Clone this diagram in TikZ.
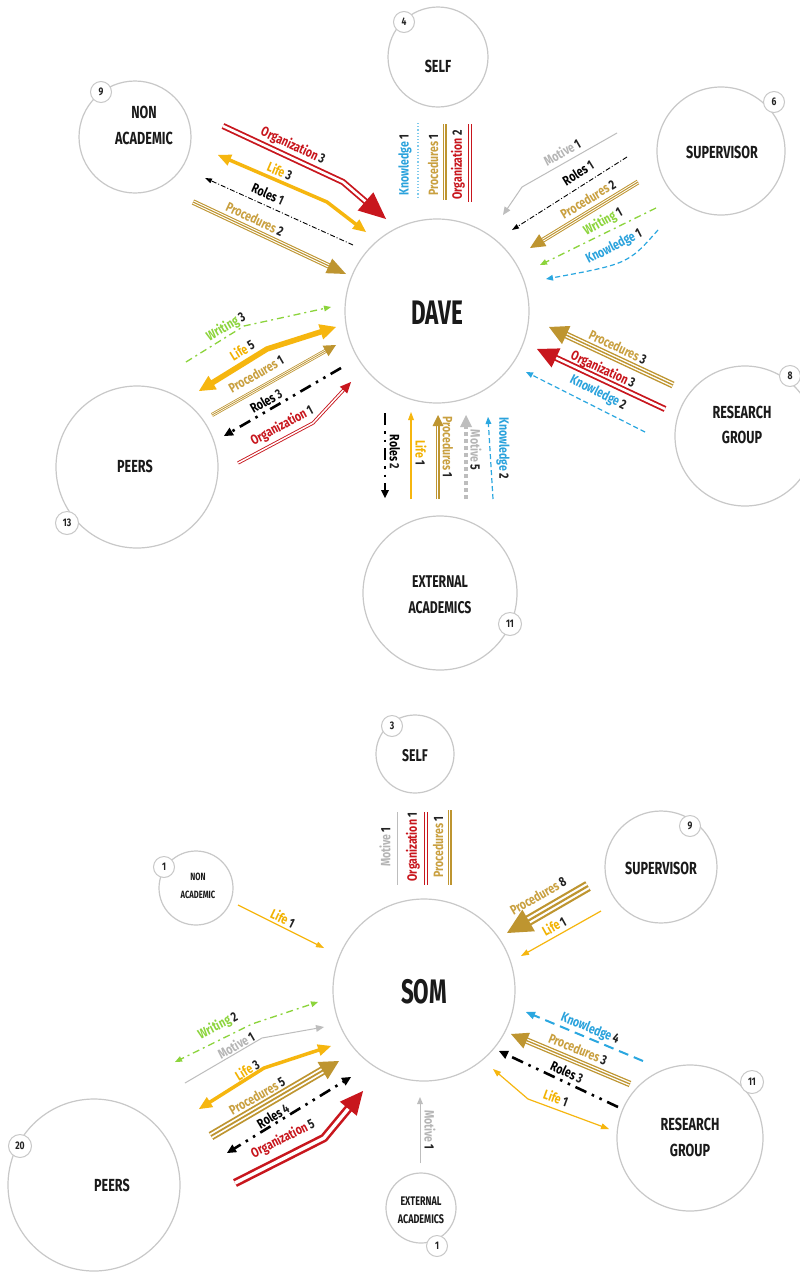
\documentclass[tikz,border=0pt]{standalone}
\usepackage{fontspec}
\setmainfont{Fira Sans}[FakeStretch=0.8]
\newfontfamily\hfont{Fira Sans}[FakeStretch=0.72]
\newfontfamily\dfont{Fira Sans}[FakeStretch=0.66]
\newfontfamily\lfont{Fira Sans}[FakeStretch=0.78]
\usetikzlibrary{calc}
\definecolor{cgray}{HTML}{C8C8C8}
\definecolor{orgred}{HTML}{C8161D}
\definecolor{gold}{HTML}{BE9530}
\definecolor{lifey}{HTML}{F6B60F}
\definecolor{wgreen}{HTML}{8CD43C}
\definecolor{kblue}{HTML}{2AA7E0}
\definecolor{mgray}{HTML}{BDBDBD}
\definecolor{numc}{HTML}{222222}
\definecolor{txt}{HTML}{1A1A1A}
\definecolor{torg}{HTML}{C8161D}
\definecolor{tgold}{HTML}{C9A040}
\definecolor{tlife}{HTML}{F2B200}
\definecolor{tblue}{HTML}{2AA2DC}
\definecolor{tgreen}{HTML}{8CD43C}
\definecolor{tgray}{HTML}{B5B5B5}
\newcounter{lbc}
\newcommand\arrlab[5]{\stepcounter{lbc}\node[lbl, rotate=#4] (lab\arabic{lbc}) at (#5) {\textcolor{#1}{#2}\,\textcolor{numc}{#3}};}
\newcommand\headtip[5]{\fill[#1] (#5) -- ($(#5)!#2!(#4)!#3/2!90:(#5)$) -- ($(#5)!#2!(#4)!#3/2!-90:(#5)$) -- cycle;}
\tikzset{
 ent/.style={circle, draw=cgray, line width=1.2pt, fill=white, inner sep=0pt, minimum size=#1},
 badge/.style={circle, draw=cgray, line width=1pt, fill=white, inner sep=0pt, minimum size=#1, text=numc, font=\lfont\bfseries\fontsize{11}{11}\selectfont},
 ename/.style 2 args={align=center, inner sep=0pt, text=txt, font=\hfont\bfseries\fontsize{#1}{#2}\selectfont},
 bigname/.style={inner sep=0pt, text=txt, font=\dfont\bfseries\fontsize{34}{34}\selectfont},
 lbl/.style={inner sep=0pt, font=\lfont\bfseries\fontsize{13.5}{13.5}\selectfont},
 org/.style 2 args={draw=orgred, line width=#1, double=white, double distance=#2, line join=round},
 proc/.style={draw=gold, line width=#1, postaction={draw=white, line width=0.6*#1}, postaction={draw=gold, line width=0.2*#1}},
 life/.style={draw=lifey, line width=#1, line join=round},
 rolesa/.style={draw=black, line width=0.9pt, dash pattern=on 5pt off 2pt on 1pt off 2pt},
 rolesb/.style={draw=black, line width=2.6pt, dash pattern=on 12pt off 6pt on 2.5pt off 6pt on 2.5pt off 6pt},
 wrt/.style={draw=wgreen, line width=1.3pt, dash pattern=on 7pt off 4pt on 2pt off 4pt},
 know/.style={draw=kblue, line width=#1, dash pattern=on 5pt off 3pt}, know/.default=1.2pt,
 mot/.style={draw=mgray, line width=#1}, mot/.default=1pt,
}
\begin{document}
\begin{tikzpicture}[x=1pt,y=-1pt]
\fill[white] (0,0) rectangle (800,1275);
\useasboundingbox (0,0) rectangle (800,1275);
% ================= TOP: DAVE =================
\node[ent=100pt] (self1) at (438,57) {};
\node[ent=112pt] (nonac1) at (135,137) {};
\node[ent=128pt] (sup1) at (721,151) {};
\node[ent=184pt] (dave) at (437,311) {};
\node[ent=140pt] (rg1) at (745,436) {};
\node[ent=162pt] (peers1) at (137,467) {};
\node[ent=154pt] (ext1) at (440,593) {};
\node[ename={17.5}{17.5}] (tself1) at (438,66) {SELF};
\node[ename={17.5}{26}] (tnonac1) at (144,125) {NON\\ACADEMIC};
\node[ename={17.5}{17.5}] (tsup1) at (722,152) {SUPERVISOR};
\node[bigname] (tdave) at (437,313) {DAVE};
\node[ename={17.5}{25}] (trg1) at (742,425) {RESEARCH\\GROUP};
\node[ename={17.5}{17.5}] (tpeers1) at (135,466) {PEERS};
\node[ename={17}{26}] (text1) at (440,595) {EXTERNAL\\ACADEMICS};
\node[badge=21pt] (b1) at (404,22) {4};
\node[badge=21pt] (b2) at (101,92) {9};
\node[badge=21pt] (b3) at (774,102) {6};
\node[badge=21pt] (b4) at (790,376) {8};
\node[badge=23pt] (b5) at (67,523) {13};
\node[badge=23pt] (b6) at (510,624) {11};
% --- non academic ---
\coordinate (na1) at (223,126); \coordinate (na2) at (343,182); \coordinate (na3) at (386,219);
\draw[org={1.8pt}{2.6pt}, shorten >=13pt] (na1) -- (na2) -- (na3);
\headtip{orgred}{27pt}{24pt}{na2}{na3}
\coordinate (nl1) at (218,155); \coordinate (nl2) at (327,202); \coordinate (nl3) at (366,232);
\draw[life=3.5pt, shorten <=6pt, shorten >=6pt] (nl1) -- (nl2) -- (nl3);
\headtip{lifey}{13pt}{12pt}{nl2}{nl1}
\headtip{lifey}{13pt}{12pt}{nl2}{nl3}
\coordinate (nr1) at (353,245); \coordinate (nr2) at (205,178);
\draw[rolesa, shorten >=3pt] (nr1) -- (nr2);
\headtip{black}{7pt}{5pt}{nr1}{nr2}
\coordinate (np1) at (193,202); \coordinate (np2) at (346,274);
\draw[proc=5.5pt, shorten >=9pt] (np1) -- (np2);
\headtip{gold}{19pt}{16pt}{np1}{np2}
\arrlab{torg}{Organization}{3}{-25}{293,146}
\arrlab{tlife}{Life}{3}{-23}{280,171}
\arrlab{black}{Roles}{1}{-24}{268,194}
\arrlab{tgold}{Procedures}{2}{-25}{255,219}
% --- self ---
\coordinate (sk1) at (418,123); \coordinate (sk2) at (418,198);
\draw[kblue!60, line width=1.2pt, dotted] (sk1) -- (sk2);
\coordinate (sp1) at (445,124); \coordinate (sp2) at (445,200);
\draw[proc=3.5pt] (sp1) -- (sp2);
\coordinate (so1) at (470,124); \coordinate (so2) at (470,202);
\draw[org={1.1pt}{1.8pt}] (so1) -- (so2);
\arrlab{tblue}{Knowledge}{1}{90}{405,165}
\arrlab{tgold}{Procedures}{1}{90}{433,165}
\arrlab{torg}{Organization}{2}{90}{458,165}
% --- supervisor ---
\coordinate (um1) at (617,133); \coordinate (um2) at (522,187); \coordinate (um3) at (503,215);
\draw[mot, shorten >=4pt] (um1) -- (um2) -- (um3);
\headtip{mgray}{8pt}{7pt}{um2}{um3}
\coordinate (ur1) at (627,157); \coordinate (ur2) at (512,230);
\draw[rolesa, shorten >=3pt] (ur1) -- (ur2);
\headtip{black}{7pt}{5pt}{ur1}{ur2}
\coordinate (up1) at (638,182); \coordinate (up2) at (530,248);
\draw[proc=5pt, shorten >=7pt] (up1) -- (up2);
\headtip{gold}{15pt}{14pt}{up1}{up2}
\coordinate (uw1) at (656,208); \coordinate (uw2) at (540,265);
\draw[wrt, shorten >=3pt] (uw1) -- (uw2);
\headtip{wgreen}{7pt}{6pt}{uw1}{uw2}
\coordinate (uk1) at (658,230); \coordinate (uk2) at (628,264); \coordinate (uk3) at (546,279);
\draw[know, shorten >=3pt] (uk1) .. controls (uk2) .. (uk3);
\headtip{kblue}{7pt}{6pt}{uk2}{uk3}
\arrlab{tgray}{Motive}{1}{30}{562,152}
\arrlab{black}{Roles}{1}{32}{578,173}
\arrlab{tgold}{Procedures}{2}{31}{588,199}
\arrlab{tgreen}{Writing}{1}{29}{603,222}
\arrlab{tblue}{Knowledge}{1}{27}{614,247}
% --- research group ---
\coordinate (rp1) at (673,385); \coordinate (rp2) at (549,327);
\draw[proc=7pt, shorten >=9pt] (rp1) -- (rp2);
\headtip{gold}{19pt}{20pt}{rp1}{rp2}
\coordinate (ro1) at (665,409); \coordinate (ro2) at (537,349);
\draw[org={1.8pt}{2.6pt}, shorten >=10pt] (ro1) -- (ro2);
\headtip{orgred}{21pt}{21pt}{ro1}{ro2}
\coordinate (rk1) at (645,432); \coordinate (rk2) at (526,372);
\draw[know, shorten >=3pt] (rk1) -- (rk2);
\headtip{kblue}{7pt}{6pt}{rk1}{rk2}
\arrlab{tgold}{Procedures}{3}{-25}{618,347}
\arrlab{torg}{Organization}{3}{-25}{603,370}
\arrlab{tblue}{Knowledge}{2}{-27}{598,393}
% --- peers ---
\coordinate (pw1) at (186,362); \coordinate (pw2) at (244,326); \coordinate (pw3) at (331,307);
\draw[wrt, shorten >=3pt] (pw1) -- (pw2) -- (pw3);
\headtip{wgreen}{7pt}{6pt}{pw2}{pw3}
\coordinate (pl1) at (199,391); \coordinate (pl2) at (267,349); \coordinate (pl3) at (336,327);
\draw[life=5.5pt, shorten <=8pt, shorten >=8pt] (pl1) -- (pl2) -- (pl3);
\headtip{lifey}{16pt}{16pt}{pl2}{pl1}
\headtip{lifey}{16pt}{16pt}{pl2}{pl3}
\coordinate (pp1) at (212,415); \coordinate (pp2) at (336,345);
\draw[proc=4pt, shorten >=6pt] (pp1) -- (pp2);
\headtip{gold}{12pt}{12pt}{pp1}{pp2}
\coordinate (pr1) at (341,368); \coordinate (pr2) at (224,436);
\draw[rolesb, shorten >=4pt] (pr1) -- (pr2);
\headtip{black}{9pt}{9pt}{pr1}{pr2}
\coordinate (po1) at (238,463); \coordinate (po2) at (313,423); \coordinate (po3) at (351,382);
\draw[org={0.9pt}{1.5pt}, shorten >=5pt] (po1) -- (po2) -- (po3);
\headtip{orgred}{11pt}{10pt}{po2}{po3}
\arrlab{tgreen}{Writing}{3}{30}{226,327}
\arrlab{tlife}{Life}{5}{31}{242,350}
\arrlab{tgold}{Procedures}{1}{30}{256,374}
\arrlab{black}{Roles}{3}{30}{266,401}
\arrlab{torg}{Organization}{1}{28}{282,426}
% --- external ---
\coordinate (er1) at (385,413); \coordinate (er2) at (385,498);
\draw[rolesb, shorten >=4pt] (er1) -- (er2);
\headtip{black}{8pt}{8pt}{er1}{er2}
\coordinate (el1) at (411,499); \coordinate (el2) at (411,412);
\draw[life=1.2pt, shorten >=3pt] (el1) -- (el2);
\headtip{lifey}{8pt}{6pt}{el1}{el2}
\coordinate (ep1) at (438,499); \coordinate (ep2) at (438,415);
\draw[proc=4pt, shorten >=5pt] (ep1) -- (ep2);
\headtip{gold}{11pt}{11pt}{ep1}{ep2}
\coordinate (em1) at (466,499); \coordinate (em2) at (466,415);
\draw[mgray, line width=4pt, dash pattern=on 4pt off 3pt, shorten >=6pt] (em1) -- (em2);
\headtip{mgray}{12pt}{12pt}{em1}{em2}
\coordinate (ek1) at (493,499); \coordinate (ek2) at (488,417);
\draw[know, shorten >=3pt] (ek1) -- (ek2);
\headtip{kblue}{7pt}{6pt}{ek1}{ek2}
\arrlab{black}{Roles}{2}{-90}{395,452}
\arrlab{tlife}{Life}{1}{-90}{421,453}
\arrlab{tgold}{Procedures}{1}{-90}{448,447}
\arrlab{tgray}{Motive}{5}{-90}{476,450}
\arrlab{tblue}{Knowledge}{2}{-90}{503,448}
% ================= BOTTOM: SOM =================
\node[ent=78pt] (self2) at (415,754) {};
\node[ent=112pt] (sup2) at (661,867) {};
\node[ent=74pt] (nonac2) at (196,888) {};
\node[ent=182pt] (som) at (424,990) {};
\node[ent=146pt] (rg2) at (690,1138) {};
\node[ent=172pt] (peers2) at (94,1185) {};
\node[ent=70pt] (ext2) at (421,1208) {};
\node[ename={17}{17}] (tself2) at (415,756) {SELF};
\node[ename={17.5}{17.5}] (tsup2) at (661,868) {SUPERVISOR};
\node[ename={10.5}{18}] (tnonac2) at (198,886) {NON\\ACADEMIC};
\node[bigname] (tsom) at (424,992) {SOM};
\node[ename={17.5}{26}] (trg2) at (690,1137) {RESEARCH\\GROUP};
\node[ename={17.5}{17.5}] (tpeers2) at (112,1185) {PEERS};
\node[ename={12.5}{18}] (text2) at (421,1210) {EXTERNAL\\ACADEMICS};
\node[badge=21pt] (c1) at (392,726) {3};
\node[badge=21pt] (c2) at (164,867) {1};
\node[badge=21pt] (c3) at (690,826) {9};
\node[badge=23pt] (c4) at (752,1082) {11};
\node[badge=23pt] (c5) at (20,1146) {20};
\node[badge=21pt] (c6) at (437,1246) {1};
% --- self ---
\coordinate (bm1) at (397,812); \coordinate (bm2) at (397,885);
\draw[mot] (bm1) -- (bm2);
\coordinate (bo1) at (426,812); \coordinate (bo2) at (426,885);
\draw[org={1.1pt}{1.8pt}] (bo1) -- (bo2);
\coordinate (bp1) at (450,810); \coordinate (bp2) at (450,885);
\draw[proc=3.5pt] (bp1) -- (bp2);
\arrlab{tgray}{Motive}{1}{90}{385,847}
\arrlab{torg}{Organization}{1}{90}{413,847}
\arrlab{tgold}{Procedures}{1}{90}{438,847}
% --- non academic ---
\coordinate (bl1) at (238,905); \coordinate (bl2) at (324,948);
\draw[life=1.2pt, shorten >=3pt] (bl1) -- (bl2);
\headtip{lifey}{8pt}{6pt}{bl1}{bl2}
\arrlab{tlife}{Life}{1}{-26}{283,918}
% --- supervisor ---
\coordinate (vp1) at (588,886); \coordinate (vp2) at (507,933);
\draw[proc=11pt, shorten >=12pt] (vp1) -- (vp2);
\headtip{gold}{25pt}{25pt}{vp1}{vp2}
\coordinate (vl1) at (601,911); \coordinate (vl2) at (521,956);
\draw[life=1.2pt, shorten >=3pt] (vl1) -- (vl2);
\headtip{lifey}{8pt}{6pt}{vl1}{vl2}
\arrlab{tgold}{Procedures}{8}{30}{538,896}
\arrlab{tlife}{Life}{1}{29}{554,926}
% --- peers ---
\coordinate (qw1) at (175,1062); \coordinate (qw2) at (252,1024); \coordinate (qw3) at (318,1002);
\draw[wrt, shorten <=3pt, shorten >=3pt] (qw1) -- (qw2) -- (qw3);
\headtip{wgreen}{7pt}{6pt}{qw2}{qw1}
\headtip{wgreen}{7pt}{6pt}{qw2}{qw3}
\coordinate (qm1) at (185,1083); \coordinate (qm2) at (262,1038); \coordinate (qm3) at (324,1027);
\draw[mot, shorten >=3pt] (qm1) -- (qm2) -- (qm3);
\headtip{mgray}{8pt}{7pt}{qm2}{qm3}
\coordinate (ql1) at (199,1109); \coordinate (ql2) at (264,1068); \coordinate (ql3) at (331,1046);
\draw[life=3.5pt, shorten <=6pt, shorten >=6pt] (ql1) -- (ql2) -- (ql3);
\headtip{lifey}{13pt}{12pt}{ql2}{ql1}
\headtip{lifey}{13pt}{12pt}{ql2}{ql3}
\coordinate (qp1) at (211,1136); \coordinate (qp2) at (339,1061);
\draw[proc=9pt, shorten >=10pt] (qp1) -- (qp2);
\headtip{gold}{19pt}{20pt}{qp1}{qp2}
\coordinate (qr1) at (227,1153); \coordinate (qr2) at (351,1077);
\draw[rolesb, shorten <=4pt, shorten >=4pt] (qr1) -- (qr2);
\headtip{black}{9pt}{9pt}{qr2}{qr1}
\headtip{black}{9pt}{9pt}{qr1}{qr2}
\coordinate (qo1) at (235,1183); \coordinate (qo2) at (324,1138); \coordinate (qo3) at (363,1091);
\draw[org={2.6pt}{3.4pt}, shorten >=11pt] (qo1) -- (qo2) -- (qo3);
\headtip{orgred}{23pt}{22pt}{qo2}{qo3}
\arrlab{tgreen}{Writing}{2}{27}{218,1026}
\arrlab{tgray}{Motive}{1}{30}{236,1045}
\arrlab{tlife}{Life}{3}{31}{247,1070}
\arrlab{tgold}{Procedures}{5}{30}{257,1096}
\arrlab{black}{Roles}{4}{31}{273,1116}
\arrlab{torg}{Organization}{5}{27}{283,1139}
% --- research group ---
\coordinate (gk1) at (643,1061); \coordinate (gk2) at (526,1012);
\draw[draw=kblue, line width=2pt, dash pattern=on 10pt off 6pt, shorten >=4pt] (gk1) -- (gk2);
\headtip{kblue}{9pt}{8pt}{gk1}{gk2}
\coordinate (gp1) at (630,1084); \coordinate (gp2) at (511,1034);
\draw[proc=6.5pt, shorten >=8pt] (gp1) -- (gp2);
\headtip{gold}{17pt}{17pt}{gp1}{gp2}
\coordinate (gr1) at (618,1107); \coordinate (gr2) at (499,1051);
\draw[rolesb, shorten >=4pt] (gr1) -- (gr2);
\headtip{black}{9pt}{9pt}{gr1}{gr2}
\coordinate (gl1) at (493,1069); \coordinate (gl2) at (528,1099); \coordinate (gl3) at (609,1129);
\draw[life=1.2pt, shorten <=3pt, shorten >=3pt] (gl1) -- (gl2) -- (gl3);
\headtip{lifey}{8pt}{6pt}{gl2}{gl1}
\headtip{lifey}{8pt}{6pt}{gl2}{gl3}
\arrlab{tblue}{Knowledge}{4}{-22}{590,1029}
\arrlab{tgold}{Procedures}{3}{-22}{578,1049}
\arrlab{black}{Roles}{3}{-25}{567,1072}
\arrlab{tlife}{Life}{1}{-20}{556,1098}
% --- external ---
\coordinate (xm1) at (420,1163); \coordinate (xm2) at (420,1097);
\draw[mot, shorten >=3pt] (xm1) -- (xm2);
\headtip{mgray}{7pt}{6pt}{xm1}{xm2}
\arrlab{tgray}{Motive}{1}{-90}{430,1130}
\end{tikzpicture}
\end{document}
